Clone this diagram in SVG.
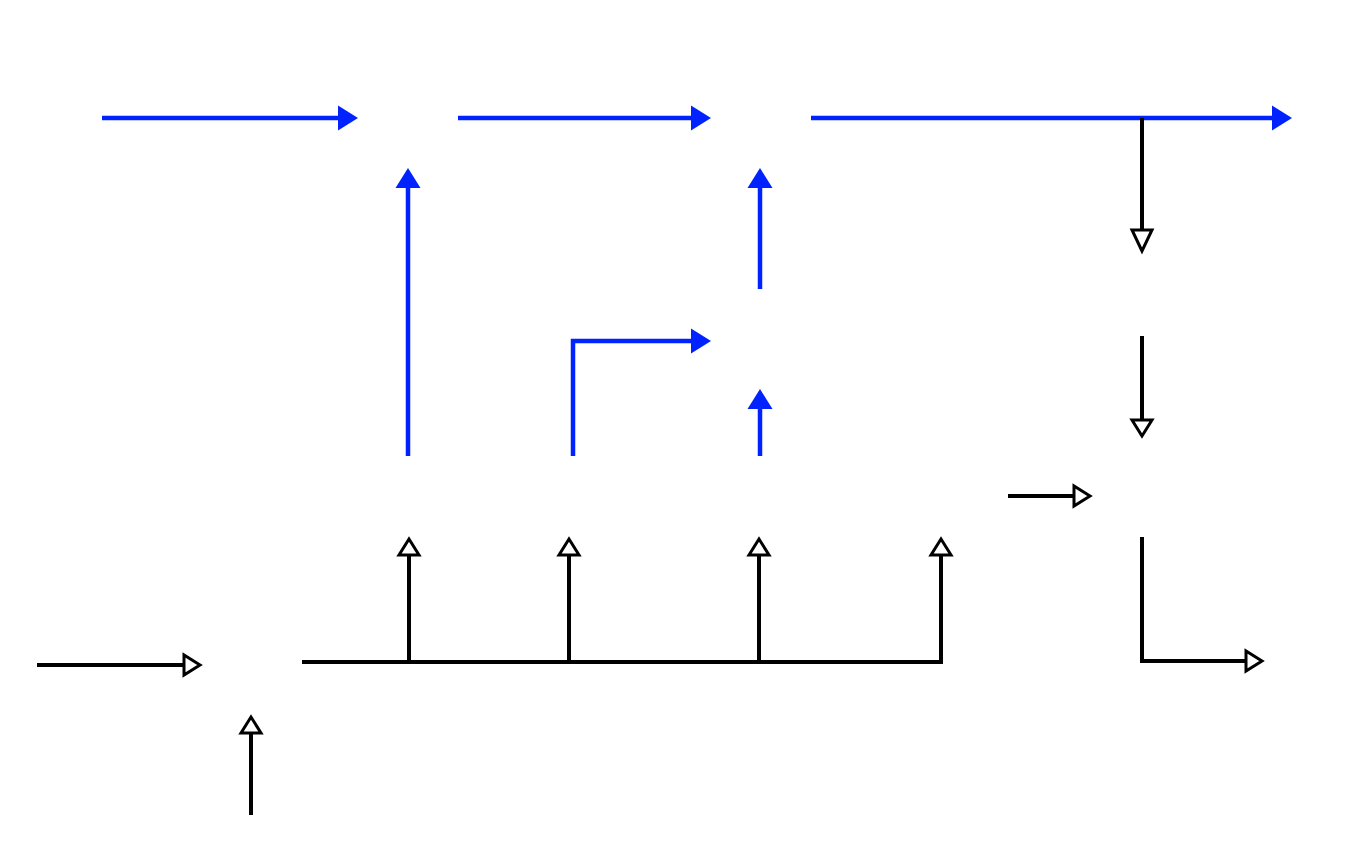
<svg xmlns="http://www.w3.org/2000/svg" width="1371" height="841" viewBox="0 0 1371 841">
<style>
.b{fill:none;stroke:#0022ff;stroke-width:4.5}
.bh{fill:#0022ff;stroke:none}
.k{fill:none;stroke:#000;stroke-width:4}
.kh{fill:#fff;stroke:#000;stroke-width:3;stroke-linejoin:miter}
</style>
<rect width="1371" height="841" fill="#fff"/>
<g id="connectors">
<g id="e1"><path class="b" d="M102 118H340"/><polygon class="bh" points="358,118 338,105.5 338,130.5"/></g>
<g id="e2"><path class="b" d="M458 118H692"/><polygon class="bh" points="711,118 691,105.5 691,130.5"/></g>
<g id="e3"><path class="b" d="M811 118H1274"/><polygon class="bh" points="1292,118 1272,105.5 1272,130.5"/></g>
<g id="e4"><path class="b" d="M408 456V186"/><polygon class="bh" points="408,168 395.5,188 420.5,188"/></g>
<g id="e5"><path class="b" d="M573 456V341H692"/><polygon class="bh" points="711,341 691,328.5 691,353.5"/></g>
<g id="e6"><path class="b" d="M760 289V186"/><polygon class="bh" points="760,168 747.5,188 772.5,188"/></g>
<g id="e7"><path class="b" d="M760 456V407"/><polygon class="bh" points="760,389 747.5,409 772.5,409"/></g>
<g id="e8"><path class="k" d="M1142 118V230"/><polygon class="kh" points="1142,251 1132,230 1152,230"/></g>
<g id="e9"><path class="k" d="M1142 336V420"/><polygon class="kh" points="1142,436 1132,420 1152,420"/></g>
<g id="e10"><path class="k" d="M1008 496H1074"/><polygon class="kh" points="1090,496 1074,486 1074,506"/></g>
<g id="e11"><path class="k" d="M1142 537V661H1246"/><polygon class="kh" points="1262,661 1246,651 1246,671"/></g>
<g id="e12"><path class="k" d="M37 665H184"/><polygon class="kh" points="200,665 184,655 184,675"/></g>
<g id="e13"><path class="k" d="M251 815V733"/><polygon class="kh" points="251,717 241,733 261,733"/></g>
<g id="e14"><path class="k" d="M302 662H941V555M409 662V555M569 662V555M759 662V555"/>
<polygon class="kh" points="409,539 399,555 419,555"/>
<polygon class="kh" points="569,539 559,555 579,555"/>
<polygon class="kh" points="759,539 749,555 769,555"/>
<polygon class="kh" points="941,539 931,555 951,555"/></g>
</g>
</svg>
